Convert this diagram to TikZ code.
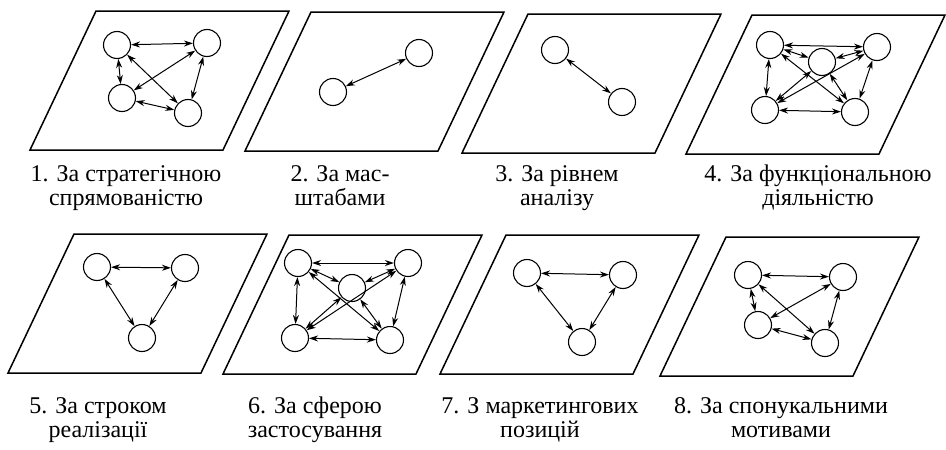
\documentclass[tikz,border=0pt]{standalone}
\usepackage{fontspec}
\setmainfont{Liberation Serif}
\usetikzlibrary{arrows.meta}

\tikzset{
  unit/.style={circle, draw, line width=1.1pt, minimum size=27pt, inner sep=0pt},
  link/.style={{Stealth[length=9pt,width=6pt]}-{Stealth[length=9pt,width=6pt]}, line width=1pt},
  plane/.style={line width=1.5pt},
  caption/.style={align=center, anchor=north, inner sep=0pt, font=\rmfamily\fontsize{24}{24}\selectfont}
}

\begin{document}
\begin{tikzpicture}[x=1pt, y=-1pt]
        \useasboundingbox (0,0) rectangle (946,450);

        % Draw the planes (lower left corners)
        \foreach \x/\y in {30/150, 245/151, 462/153, 686/154, 8/373, 223/374, 440/374, 660/376}
            \draw[plane] (\x,\y) -- ++(193,0) -- ++(66,-139) -- ++(-193,0) -- cycle;

        % 1. strategic
        \node[unit] (a1) at (117,45) {};
        \node[unit] (b1) at (207,43) {};
        \node[unit] (c1) at (122,98) {};
        \node[unit] (d1) at (188,113) {};
        \foreach \s/\t in {a1/b1, a1/c1, a1/d1, b1/c1, b1/d1, c1/d1}
            \draw[link] (\s) -- (\t);

        % 2. scale
        \node[unit] (a2) at (333,92) {};
        \node[unit] (b2) at (419,53) {};
        \draw[link] (a2) -- (b2);

        % 3. level
        \node[unit] (a3) at (555,50) {};
        \node[unit] (b3) at (622,102) {};
        \draw[link] (a3) -- (b3);

        % 4. functional
        \node[unit] (a4) at (770,45) {};
        \node[unit] (b4) at (877,47) {};
        \node[unit] (m4) at (822,62) {};
        \node[unit] (c4) at (765,110) {};
        \node[unit] (d4) at (855,112) {};
        \foreach \s/\t in {a4/b4, a4/m4, a4/c4, a4/d4, b4/m4, b4/c4, b4/d4, m4/c4, m4/d4, c4/d4}
            \draw[link] (\s) -- (\t);

        % 5. term
        \node[unit] (a5) at (97,267) {};
        \node[unit] (b5) at (185,268) {};
        \node[unit] (c5) at (142,338) {};
        \foreach \s/\t in {a5/b5, a5/c5, b5/c5}
            \draw[link] (\s) -- (\t);

        % 6. sphere
        \node[unit] (a6) at (298,263) {};
        \node[unit] (b6) at (408,263) {};
        \node[unit] (m6) at (352,288) {};
        \node[unit] (c6) at (295,338) {};
        \node[unit] (d6) at (390,340) {};
        \foreach \s/\t in {a6/b6, a6/m6, a6/c6, a6/d6, b6/m6, b6/c6, b6/d6, m6/c6, m6/d6, c6/d6}
            \draw[link] (\s) -- (\t);

        % 7. marketing
        \node[unit] (a7) at (527,273) {};
        \node[unit] (b7) at (623,275) {};
        \node[unit] (c7) at (582,342) {};
        \foreach \s/\t in {a7/b7, a7/c7, b7/c7}
            \draw[link] (\s) -- (\t);

        % 8. motives
        \node[unit] (a8) at (748,275) {};
        \node[unit] (b8) at (843,277) {};
        \node[unit] (c8) at (758,325) {};
        \node[unit] (d8) at (825,343) {};
        \foreach \s/\t in {a8/b8, a8/c8, a8/d8, b8/c8, b8/d8, c8/d8}
            \draw[link] (\s) -- (\t);

        % Captions
        \node[caption] (t1) at (126,165) {1. За стратегічною\\спрямованістю};
        \node[caption] (t2) at (340,165) {2. За мас-\\штабами};
        \node[caption] (t3) at (557,165) {3. За рівнем\\аналізу};
        \node[caption] (t4) at (818,165) {4. За функціональною\\діяльністю};
        \node[caption] (t5) at (98,397) {5. За строком\\реалізації};
        \node[caption] (t6) at (315,397) {6. За сферою\\застосування};
        \node[caption] (t7) at (540,397) {7. З маркетингових\\позицій};
        \node[caption] (t8) at (781,397) {8. За спонукальними\\мотивами};
    \end{tikzpicture}
\end{document}
